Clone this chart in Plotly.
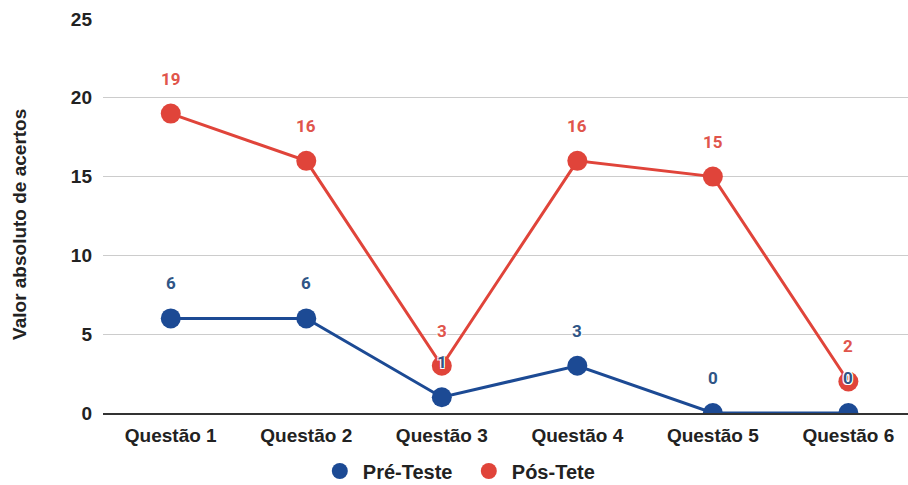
import plotly.graph_objects as go

categories = ["Questão 1", "Questão 2", "Questão 3", "Questão 4", "Questão 5", "Questão 6"]
pre_teste = [6, 6, 1, 3, 0, 0]
pos_teste = [19, 16, 3, 16, 15, 2]
y_ticks = [0, 5, 10, 15, 20, 25]
y_title = "Valor absoluto de acertos"

BLUE = "#1c4a94"
RED = "#e0443a"
BLUE_TXT = "#2f5586"
RED_TXT = "#e0554c"
HALO = "1px 1px 0 white, -1px -1px 0 white, 1px -1px 0 white, -1px 1px 0 white"
AXIS_FONT = "Liberation Sans, Arial"

series = [
    ("Pós-Tete", pos_teste, RED, RED_TXT),
    ("Pré-Teste", pre_teste, BLUE, BLUE_TXT),
]

fig = go.Figure()

# data lines (red drawn first so the blue series sits on top)
for name, values, color, _ in series:
    fig.add_trace(go.Scatter(
        x=categories, y=values, name=name, mode="lines+markers",
        line=dict(color=color, width=3),
        marker=dict(color=color, size=20),
        showlegend=False, cliponaxis=True,
    ))

# legend entries: circle only
for name, _, color, _ in reversed(series):
    fig.add_trace(go.Scatter(
        x=[None], y=[None], name=name, mode="markers",
        marker=dict(color=color, size=20), showlegend=True,
    ))

# value labels above each point
annotations = []
for name, values, _, txt_color in series:
    for cat, v in zip(categories, values):
        annotations.append(dict(
            x=cat, y=v, xref="x", yref="y", text=str(v), showarrow=False,
            yshift=35, yanchor="middle",
            font=dict(family="Roboto", size=17, color=txt_color, weight="bold", shadow=HALO),
        ))

# vertical axis title
annotations.append(dict(
    text=y_title, xref="paper", yref="paper", x=-0.104, y=0.478,
    xanchor="center", yanchor="middle", textangle=-90, showarrow=False,
    font=dict(family=AXIS_FONT, size=19, color="#222222", weight="bold"),
))

fig.update_layout(
    width=908, height=485,
    margin=dict(l=103, r=0, t=19, b=72),
    paper_bgcolor="white", plot_bgcolor="white",
    font=dict(family=AXIS_FONT, size=18, color="#222222"),
    showlegend=True,
    annotations=annotations,
    legend=dict(
        orientation="h", xref="container", yref="container",
        x=0.513, xanchor="center", y=14 / 485, yanchor="middle",
        font=dict(family=AXIS_FONT, size=20, color="#222222", weight="bold"),
        itemsizing="trace", traceorder="normal", itemwidth=36,
        entrywidth=98,
    ),
    xaxis=dict(
        type="category", range=[-0.5, 5.44],
        showgrid=False, showline=True, linecolor="#333333", linewidth=2,
        ticks="", ticklabelstandoff=4,
        tickfont=dict(size=19, weight="bold", color="#222222"),
        zeroline=False, automargin=False,
    ),
    yaxis=dict(
        range=[0, 25], tickvals=y_ticks,
        showgrid=True, gridcolor="#cccccc", gridwidth=1,
        zeroline=False, showline=False, ticks="",
        ticklabelstandoff=10, automargin=False,
        tickfont=dict(size=19, weight="bold", color="#222222"),
    ),
)

fig.write_html("out.html")
